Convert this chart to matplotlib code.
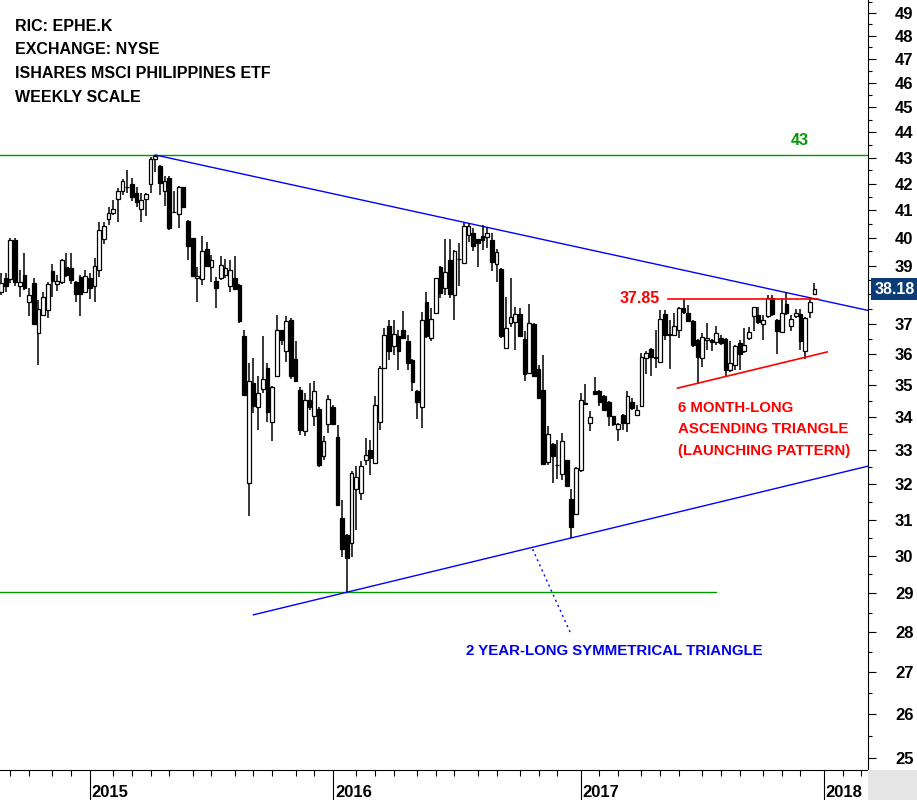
import numpy as np
import pandas as pd
import matplotlib
matplotlib.use("Agg")
import matplotlib.pyplot as plt
import matplotlib.dates as mdates
from matplotlib.patches import Rectangle
from matplotlib.ticker import FixedLocator, NullFormatter, FixedFormatter
from matplotlib.transforms import blended_transform_factory

plt.rcParams['font.family'] = ['Liberation Sans', 'DejaVu Sans']
plt.rcParams['font.weight'] = 'bold'

# ---------------- data (weekly bars, EPHE) ----------------
first_bar = '2014-08-22'
n_bars = 175
dates = pd.date_range(first_bar, periods=n_bars, freq='7D')

opens = [38.07, 38.56, 38.52, 39.91, 38.27, 38.67, 37.72, 38.39, 36.71, 37.28,
         37.45, 38.81, 38.35, 38.41, 38.95, 38.92, 38.43, 38.60, 38.07, 38.57,
         38.28, 38.84, 39.94, 40.66, 40.89, 41.40, 41.73, 41.88, 41.98, 41.64,
         41.06, 41.43, 41.97, 42.93, 42.68, 41.70, 42.20, 40.95, 40.85, 41.86,
         40.61, 39.98, 38.56, 38.52, 39.58, 38.96, 38.47, 38.57, 38.66, 38.27,
         38.57, 38.33, 36.60, 32.04, 35.07, 34.31, 34.88, 35.55, 33.87, 35.31,
         36.78, 36.09, 37.14, 35.85, 34.86, 33.57, 34.55, 34.03, 34.26, 32.82,
         33.79, 34.31, 33.40, 31.04, 30.58, 30.35, 31.87, 31.75, 32.72, 33.01,
         32.63, 33.87, 35.55, 36.93, 36.28, 36.58, 36.80, 36.44, 35.82, 34.83,
         34.32, 37.73, 36.53, 37.36, 38.96, 38.21, 39.20, 37.96, 39.22, 39.10,
         40.10, 40.18, 39.94, 40.06, 40.03, 39.91, 39.05, 38.88, 36.20, 37.02,
         37.06, 37.33, 36.50, 35.39, 36.99, 35.52, 34.86, 32.66, 33.20, 32.58,
         32.30, 32.70, 31.58, 31.16, 32.43, 34.43, 33.84, 34.83, 34.83, 34.67,
         34.49, 34.03, 33.64, 34.08, 33.84, 34.48, 34.06, 34.34, 35.87, 36.17,
         35.92, 35.76, 37.33, 36.66, 36.64, 36.80, 37.53, 37.36, 37.11, 36.47,
         35.87, 36.47, 36.47, 36.38, 36.53, 36.50, 35.50, 35.66, 36.36, 36.09,
         36.53, 37.25, 37.30, 36.99, 37.25, 37.89, 37.14, 36.73, 37.67, 36.94,
         37.25, 37.33, 36.11, 37.40, 38.00]
highs = [38.73, 38.75, 39.97, 39.97, 38.85, 39.44, 38.21, 38.56, 37.81, 38.09,
         38.44, 39.06, 38.67, 39.22, 39.44, 39.44, 38.45, 38.67, 38.85, 38.73,
         39.26, 40.58, 40.58, 41.13, 41.39, 41.82, 42.17, 42.52, 42.20, 41.88,
         41.64, 41.64, 43.01, 43.10, 42.70, 42.27, 42.27, 41.70, 41.91, 41.88,
         40.63, 40.00, 38.96, 40.06, 39.85, 39.38, 38.61, 39.34, 39.23, 39.20,
         39.34, 38.35, 36.78, 35.71, 35.87, 35.28, 36.60, 35.71, 34.98, 37.30,
         36.80, 37.25, 37.19, 36.42, 34.93, 34.76, 35.07, 35.14, 34.31, 33.42,
         34.70, 34.39, 33.77, 31.54, 30.60, 32.38, 32.53, 32.67, 33.37, 33.32,
         34.67, 35.62, 36.86, 37.14, 37.14, 36.80, 37.44, 36.64, 35.84, 34.85,
         37.40, 38.07, 37.54, 38.58, 38.98, 39.95, 39.95, 39.56, 39.80, 40.52,
         40.52, 40.34, 39.96, 40.46, 40.40, 40.16, 39.58, 38.91, 37.90, 38.56,
         37.58, 37.53, 36.75, 37.68, 37.01, 35.66, 35.96, 33.72, 33.22, 33.31,
         33.52, 32.72, 31.87, 32.50, 34.76, 35.04, 34.20, 35.25, 34.86, 34.69,
         34.51, 34.05, 33.82, 34.10, 34.81, 34.60, 34.39, 36.03, 36.09, 36.19,
         36.80, 37.47, 37.47, 37.14, 37.36, 37.55, 37.85, 37.63, 37.13, 36.49,
         36.71, 37.04, 36.49, 36.91, 36.64, 36.52, 36.42, 36.31, 36.47, 36.86,
         36.88, 37.57, 37.56, 37.30, 37.96, 37.96, 37.16, 37.89, 38.07, 37.30,
         37.50, 37.50, 37.23, 37.89, 38.40]
lows = [37.98, 38.09, 38.40, 38.27, 37.92, 38.15, 37.25, 36.97, 35.66, 37.25,
        37.21, 37.92, 38.12, 38.36, 38.61, 38.36, 37.72, 37.25, 38.04, 37.85,
        37.75, 38.59, 39.76, 40.47, 40.83, 40.55, 41.57, 41.64, 41.36, 41.13,
        40.58, 40.79, 41.64, 42.46, 41.57, 41.17, 40.28, 40.89, 40.36, 41.07,
        39.20, 38.61, 37.72, 38.33, 38.96, 38.44, 37.53, 38.50, 38.56, 38.09,
        38.15, 37.04, 34.68, 31.09, 34.13, 33.62, 34.76, 33.87, 33.27, 35.28,
        36.31, 35.76, 35.21, 35.10, 33.47, 33.44, 34.23, 33.72, 32.50, 32.72,
        33.52, 33.79, 31.37, 29.97, 29.03, 29.97, 30.70, 31.56, 32.56, 32.26,
        32.60, 33.62, 35.52, 35.82, 35.98, 35.50, 36.51, 35.50, 34.83, 33.95,
        33.67, 36.53, 36.42, 37.34, 37.87, 37.98, 37.89, 37.14, 38.27, 39.08,
        39.85, 39.50, 38.96, 39.56, 39.62, 38.82, 38.41, 36.53, 36.18, 36.89,
        36.13, 36.58, 35.12, 35.37, 35.26, 34.58, 32.59, 32.58, 32.04, 32.16,
        32.14, 31.93, 30.49, 31.14, 32.35, 34.39, 33.57, 34.72, 34.34, 34.21,
        33.72, 33.74, 33.27, 33.62, 33.56, 34.23, 34.04, 34.32, 35.37, 35.28,
        35.56, 35.75, 36.47, 35.53, 36.60, 36.53, 37.34, 37.06, 36.24, 35.07,
        35.58, 36.12, 36.09, 36.31, 36.31, 35.28, 35.43, 35.50, 35.50, 36.04,
        36.47, 36.75, 37.00, 36.47, 37.20, 37.27, 36.01, 36.70, 37.30, 36.75,
        37.20, 36.14, 35.85, 37.19, 37.98]
closes = [38.39, 38.27, 39.91, 38.44, 38.41, 38.23, 37.98, 37.00, 37.50, 37.90,
          38.36, 38.45, 38.45, 39.20, 38.67, 38.51, 38.00, 38.00, 38.63, 38.20,
          38.98, 40.27, 40.41, 40.89, 41.04, 41.71, 42.09, 41.87, 41.49, 41.32,
          41.37, 41.60, 42.93, 43.06, 42.01, 42.09, 40.36, 40.93, 41.86, 41.13,
          39.71, 38.65, 38.63, 39.51, 39.00, 39.19, 38.23, 39.01, 38.91, 38.84,
          38.19, 37.08, 34.70, 35.12, 34.34, 34.76, 35.20, 34.18, 34.96, 36.78,
          36.45, 37.08, 35.28, 35.12, 33.60, 34.55, 34.31, 34.81, 32.56, 33.28,
          34.57, 33.81, 31.40, 30.19, 29.94, 32.33, 32.22, 32.53, 32.86, 32.77,
          34.38, 35.55, 36.64, 36.09, 36.67, 36.09, 36.53, 35.71, 35.10, 34.49,
          37.14, 36.58, 37.16, 38.56, 38.04, 38.77, 38.00, 39.53, 39.24, 40.42,
          40.42, 39.71, 39.80, 39.91, 40.16, 39.14, 39.49, 36.58, 36.86, 37.23,
          37.33, 36.60, 35.36, 37.02, 35.28, 34.60, 32.61, 33.49, 32.82, 32.56,
          33.29, 31.96, 30.78, 32.48, 34.55, 34.41, 34.01, 34.74, 34.49, 34.23,
          34.03, 33.80, 33.79, 33.84, 34.67, 34.29, 34.23, 35.90, 36.05, 35.90,
          35.87, 37.16, 36.64, 36.64, 36.91, 37.53, 37.38, 37.11, 36.31, 35.90,
          36.56, 36.53, 36.38, 36.69, 36.36, 35.50, 35.71, 36.28, 36.00, 36.31,
          36.73, 37.56, 37.06, 37.14, 37.89, 37.33, 36.75, 37.36, 37.36, 37.17,
          37.36, 36.42, 37.21, 37.73, 38.18]

y_ticks = list(range(25, 50))

# annotation levels
top_level = 43.1
bottom_level = 29.03
bottom_level_end = '2017-07-28'
resist_anchor_bar = 33            # index of the 2015 high
resist_end_price = 37.45
support_anchor_bars = (74, 122)   # indices of the two lows
support_start = '2015-09-04'
asc_top_level = 37.85
asc_top_span = ('2017-05-17', '2017-12-27')
asc_low_line = (('2017-05-31', 34.91), ('2018-01-10', 36.07))
pointer = (('2016-10-26', 30.18), ('2016-12-23', 27.93))

header = ['RIC: EPHE.K', 'EXCHANGE: NYSE', 'ISHARES MSCI PHILIPPINES ETF', 'WEEKLY SCALE']
red_note = ['6 MONTH-LONG', 'ASCENDING TRIANGLE', '(LAUNCHING PATTERN)']
blue_note = '2 YEAR-LONG SYMMETRICAL TRIANGLE'

# ---------------- figure ----------------
W, H = 917, 800
fig = plt.figure(figsize=(W / 100, H / 100), dpi=100)
fig.patch.set_facecolor('white')
ax = fig.add_axes([0, 30 / H, 868 / W, 770 / H])
ax.set_facecolor('white')

x = mdates.date2num(dates)
o = np.array(opens); h = np.array(highs); l = np.array(lows); c = np.array(closes)

ax.set_yscale('log')
ax.set_ylim(24.72, 49.58)
xl = x[0] - 1.5
xr = x[0] + 867 / 4.675 * 7
ax.set_xlim(xl, xr)

ax.vlines(x, l, h, color='black', lw=1.1, zorder=3)
bottoms = np.minimum(o, c)
heights = np.maximum(np.abs(c - o), 0.001)
cols = ['white' if cc >= oo else 'black' for oo, cc in zip(o, c)]
ax.bar(x, heights, bottom=bottoms, width=5.6, color=cols, edgecolor='black',
       linewidth=0.9, zorder=4, align='center')

# lines
GREEN = '#009900'
BLUE = '#0000FF'
RED = '#FF0000'
ax.axhline(top_level, color=GREEN, lw=1.0, zorder=2)
d = lambda s: mdates.date2num(pd.Timestamp(s))
ax.plot([xl, d(bottom_level_end)], [bottom_level, bottom_level], color=GREEN, lw=1.0, zorder=2)

ax.plot([x[resist_anchor_bar], xr], [h[resist_anchor_bar], resist_end_price], color=BLUE, lw=1.0, zorder=2)

i1, i2 = support_anchor_bars
k = (np.log(l[i2]) - np.log(l[i1])) / (x[i2] - x[i1])
xs = np.array([d(support_start), xr])
ax.plot(xs, l[i1] * np.exp(k * (xs - x[i1])), color=BLUE, lw=1.0, zorder=2)

ax.plot([d(asc_top_span[0]), d(asc_top_span[1])], [asc_top_level] * 2, color=RED, lw=1.2, zorder=5)
ax.plot([d(asc_low_line[0][0]), d(asc_low_line[1][0])], [asc_low_line[0][1], asc_low_line[1][1]],
        color=RED, lw=1.2, zorder=5)
ax.plot([d(pointer[0][0]), d(pointer[1][0])], [pointer[0][1], pointer[1][1]], color=BLUE,
        lw=1.0, ls=(0, (1.5, 2.5)), zorder=2)

# axes styling
for s in ['top', 'left']:
    ax.spines[s].set_visible(False)
for s in ['right', 'bottom']:
    ax.spines[s].set_color('black')
    ax.spines[s].set_linewidth(0.8)

last_close = c[-1]
ax.yaxis.tick_right()
ax.yaxis.set_major_locator(FixedLocator(y_ticks))
# the label under the last-price box is hidden by it in the reference
ax.yaxis.set_major_formatter(FixedFormatter(
    ['' if abs(v - last_close) < 0.6 else str(v) for v in y_ticks]))
ax.yaxis.set_minor_locator(FixedLocator([v + 0.5 for v in y_ticks]))
ax.yaxis.set_minor_formatter(NullFormatter())
ax.tick_params(axis='y', which='major', length=5.5, width=0.8, pad=14, labelsize=12, direction='out')
ax.tick_params(axis='y', which='minor', length=3, width=0.8, direction='out')
for t in ax.get_yticklabels():
    t.set_fontweight('bold')

months = pd.date_range('2014-08-01', '2018-03-01', freq='MS')
first_fri = [m + pd.Timedelta(days=(4 - m.weekday()) % 7) for m in months]
first_fri = [f for f in first_fri if xl < d(f) < xr]
year_ticks = [f for f in first_fri if f.month == 1]
month_ticks = [f for f in first_fri if f.month != 1]
ax.xaxis.set_major_locator(FixedLocator([d(f) for f in year_ticks]))
ax.xaxis.set_minor_locator(FixedLocator([d(f) for f in month_ticks]))
ax.xaxis.set_major_formatter(NullFormatter())
ax.xaxis.set_minor_formatter(NullFormatter())
ax.tick_params(axis='x', which='major', length=22, width=0.8, direction='out')
ax.tick_params(axis='x', which='minor', length=4.5, width=0.8, direction='out')
for f in year_ticks:
    ax.annotate(str(f.year), xy=(d(f), 0), xycoords=('data', 'axes fraction'),
                xytext=(2, -27), textcoords='offset pixels', ha='left', va='baseline',
                fontsize=12, fontweight='bold', color='black', annotation_clip=False)

# gray corner
fig.patches.append(Rectangle((868 / W, 0), 49 / W, 30 / H, transform=fig.transFigure,
                             facecolor='#E6E6E6', edgecolor='none', zorder=0))

# last price box
bt = blended_transform_factory(fig.transFigure, ax.transData)
ax.text(894.8 / W, last_close, f'{last_close:.2f}', transform=bt, ha='center', va='center',
        color='white', fontsize=11.5, fontweight='bold', clip_on=False, zorder=10,
        bbox=dict(boxstyle='square,pad=0.22', fc='#0B3C78', ec='none'))

# texts
def ftxt(px, py, s, **kw):
    fig.text(px / W, 1 - py / H, s, **kw)

for i, s in enumerate(header):
    ftxt(15, 30.7 + i * 23.6, s, ha='left', va='baseline', fontsize=11.5, fontweight='bold', color='black')

ax.annotate(f'{top_level:.0f}', xy=(800 / W, top_level), xycoords=bt, xytext=(0, 10),
            textcoords='offset pixels', ha='center', va='baseline', fontsize=11.5,
            fontweight='bold', color=GREEN)
ftxt(660, 303.3, f'{asc_top_level:.2f}', ha='right', va='baseline', fontsize=11.5, fontweight='bold', color=RED)
for i, s in enumerate(red_note):
    ftxt(677.5, 411.7 + i * 21.7, s, ha='left', va='baseline', fontsize=10.8, fontweight='bold', color=RED)
ftxt(614.7, 655.3, blue_note, ha='center', va='baseline', fontsize=10.8, fontweight='bold', color='#0000EE')

fig.savefig('out.png', dpi=100, facecolor='white')
